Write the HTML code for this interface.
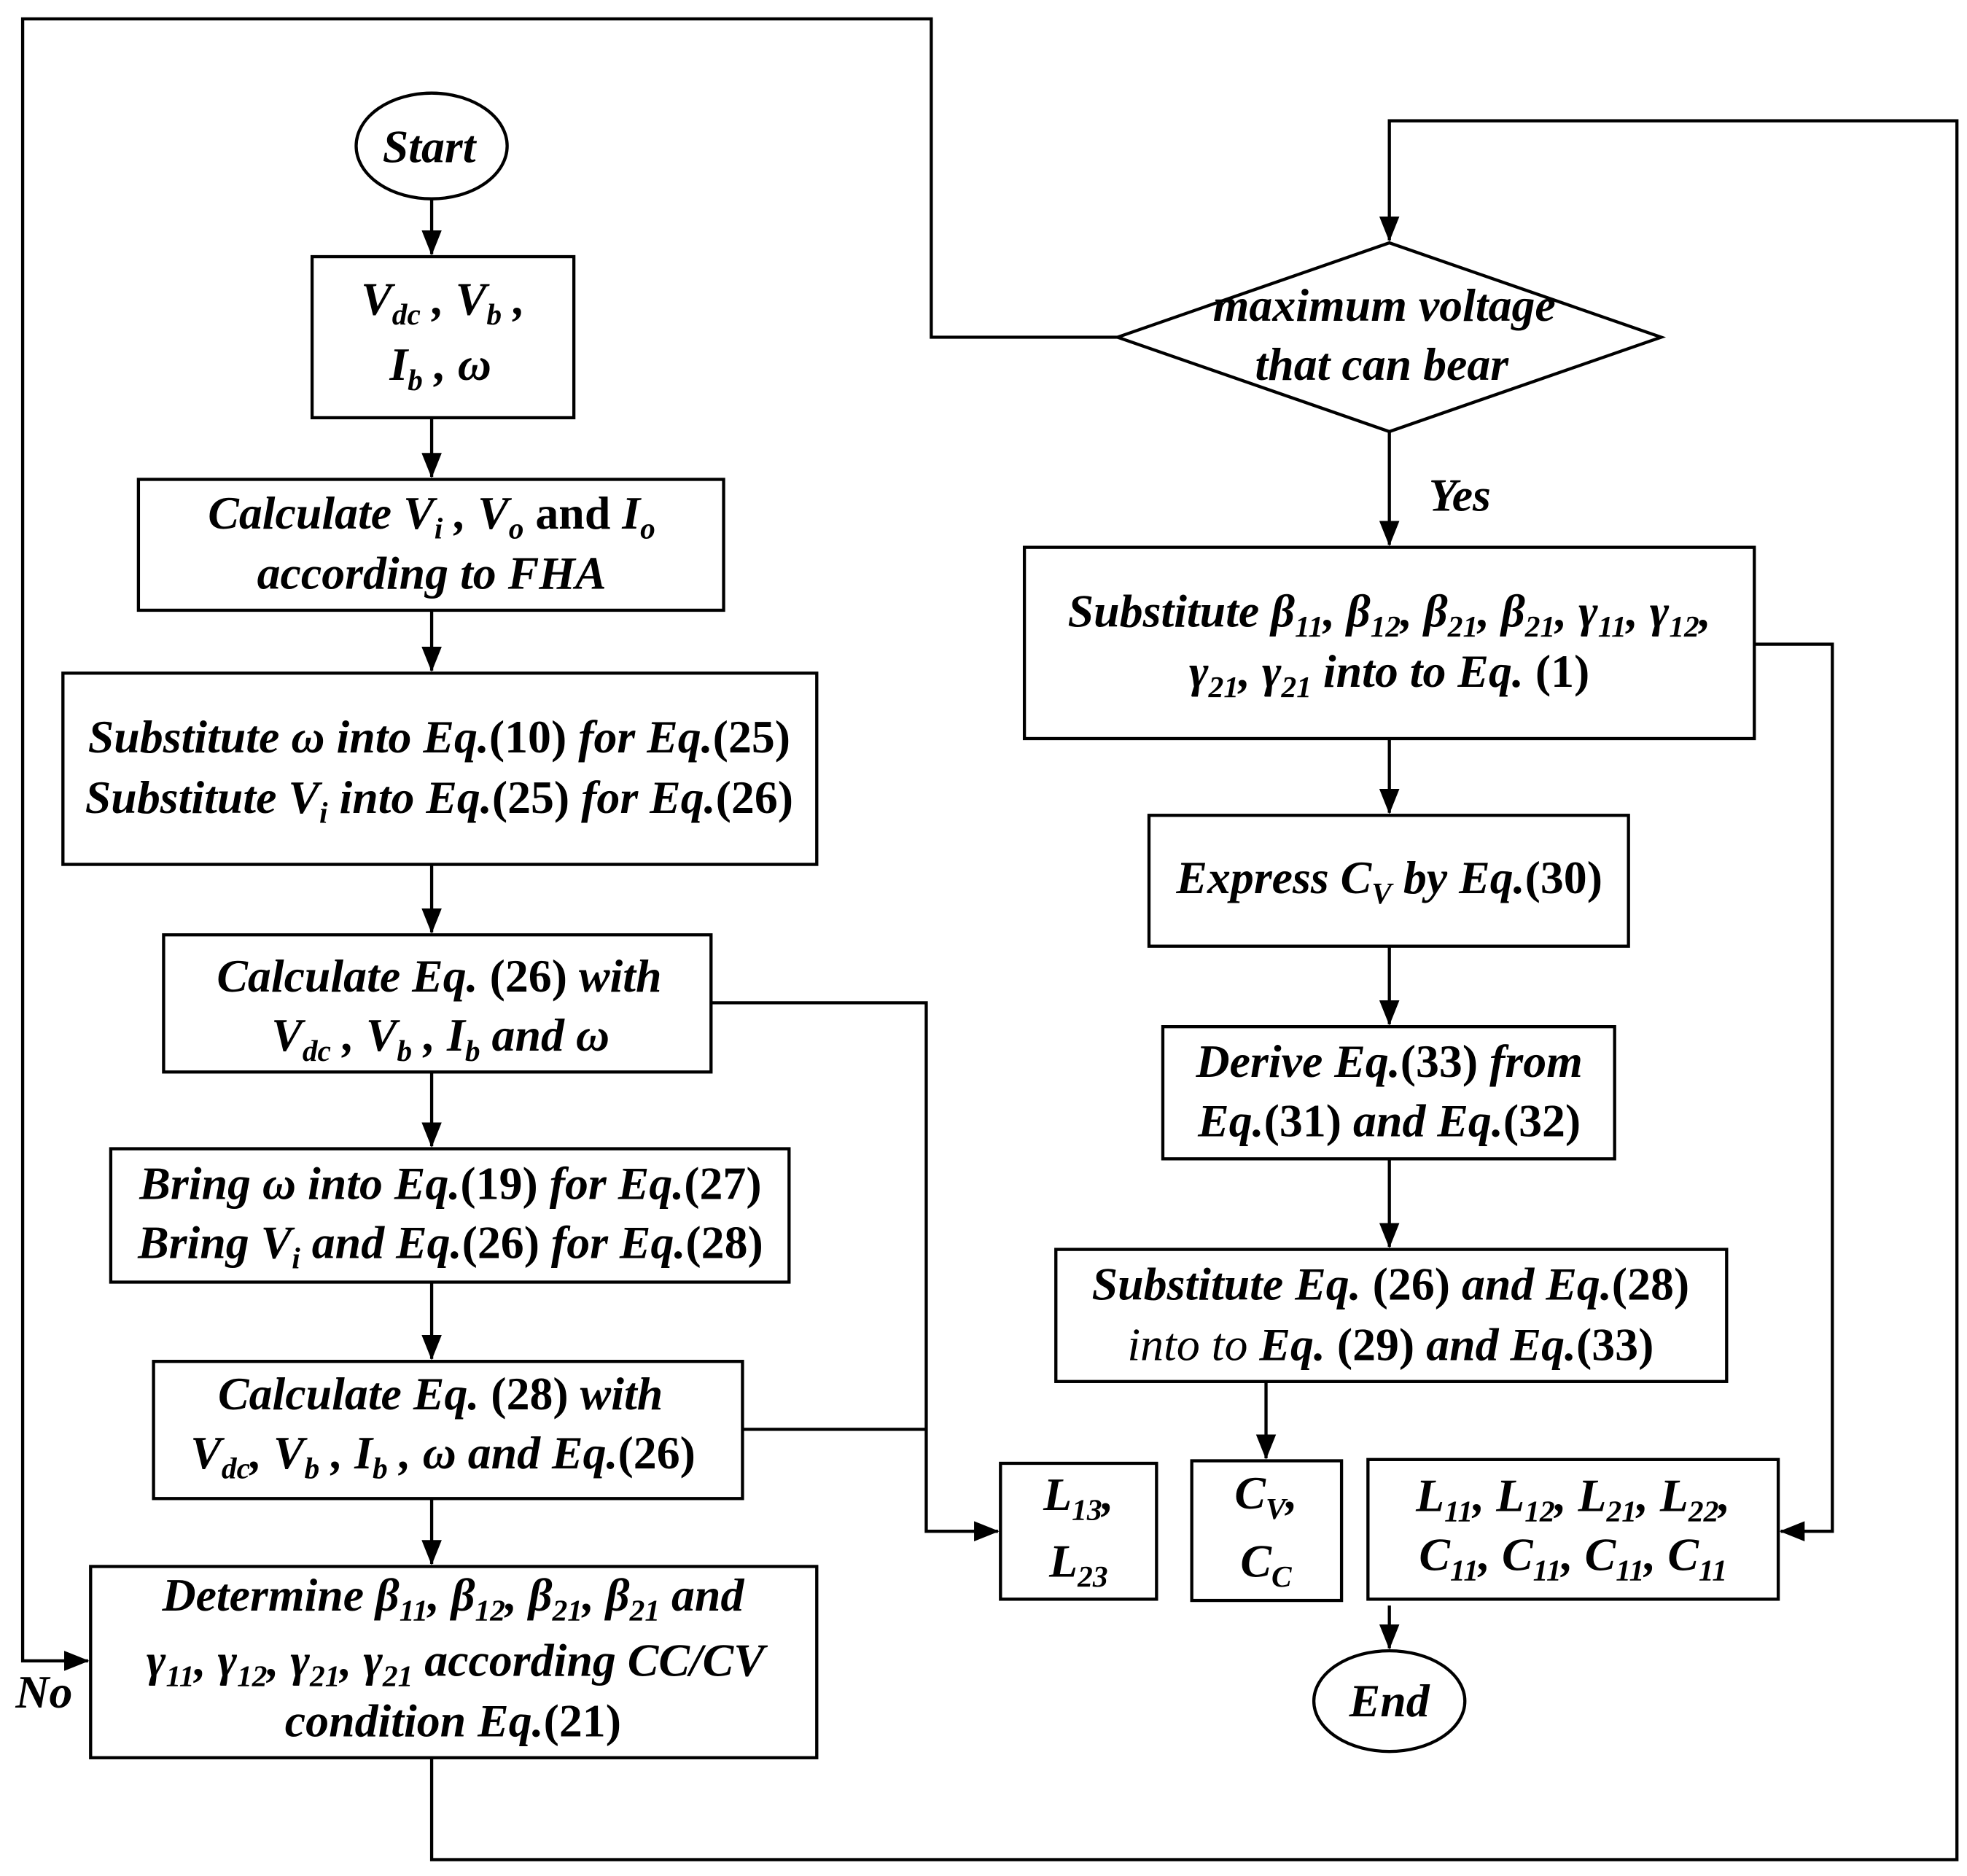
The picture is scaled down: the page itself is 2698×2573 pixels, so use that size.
<!DOCTYPE html>
<html><head><meta charset="utf-8"><style>
html,body{margin:0;padding:0;background:#fff}
svg{display:block}
text{font-family:"Liberation Serif",serif;font-weight:bold;font-style:italic;font-size:37px;fill:#000}
.n{font-style:normal}
</style></head><body>
<svg width="2698" height="2573" viewBox="0 0 1563 1491" preserveAspectRatio="none" xmlns="http://www.w3.org/2000/svg">
<defs>
<marker id="b" markerWidth="20" markerHeight="16" refX="19" refY="8" orient="auto" markerUnits="userSpaceOnUse"><path d="M0,0 L20,8 L0,16 z" fill="#000"/></marker></defs>
<g fill="none" stroke="#000" stroke-width="2.5">
<polyline points="888,268 740,268 740,15 18,15 18,1320 70,1320" marker-end="url(#b)"/>
<ellipse cx="343" cy="116" rx="60" ry="42"/>
<line x1="343" y1="158" x2="343" y2="202" marker-end="url(#b)"/>
<rect x="248" y="204" width="208" height="128"/>
<line x1="343" y1="332" x2="343" y2="379" marker-end="url(#b)"/>
<rect x="110" y="381" width="465" height="104"/>
<line x1="343" y1="485" x2="343" y2="533" marker-end="url(#b)"/>
<rect x="50" y="535" width="599" height="152"/>
<line x1="343" y1="687" x2="343" y2="741" marker-end="url(#b)"/>
<rect x="130" y="743" width="435" height="109"/>
<line x1="343" y1="852" x2="343" y2="911" marker-end="url(#b)"/>
<rect x="88" y="913" width="539" height="106"/>
<line x1="343" y1="1019" x2="343" y2="1080" marker-end="url(#b)"/>
<rect x="122" y="1082" width="468" height="109"/>
<line x1="343" y1="1191" x2="343" y2="1243" marker-end="url(#b)"/>
<rect x="72" y="1245" width="577" height="152"/>
<polyline points="343,1397 343,1478 1555,1478 1555,96 1104,96 1104,191" marker-end="url(#b)"/>
<polygon points="888,268 1104,193 1320,268 1104,343"/>
<line x1="1104" y1="343" x2="1104" y2="433" marker-end="url(#b)"/>
<rect x="814" y="435" width="580" height="152"/>
<polyline points="1394,512 1456,512 1456,1217 1415,1217" marker-end="url(#b)"/>
<line x1="1104" y1="587" x2="1104" y2="646" marker-end="url(#b)"/>
<rect x="913" y="648" width="381" height="104"/>
<line x1="1104" y1="752" x2="1104" y2="814" marker-end="url(#b)"/>
<rect x="924" y="816" width="359" height="105"/>
<line x1="1104" y1="921" x2="1104" y2="991" marker-end="url(#b)"/>
<rect x="839" y="993" width="533" height="105"/>
<line x1="1006" y1="1098" x2="1006" y2="1159" marker-end="url(#b)"/>
<polyline points="565,797 736,797 736,1217 793,1217" marker-end="url(#b)"/>
<line x1="590" y1="1136" x2="736" y2="1136"/>
<rect x="795" y="1163" width="124" height="108"/>
<rect x="947" y="1161" width="119" height="111"/>
<rect x="1087" y="1160" width="326" height="111"/>
<line x1="1104" y1="1276" x2="1104" y2="1310" marker-end="url(#b)"/>
<ellipse cx="1104" cy="1352" rx="60" ry="40"/>
</g>
<g text-anchor="middle">
<text x="341" y="129">Start</text>
<text x="352" y="250">V<tspan font-size="24" dy="8">dc</tspan><tspan dy="-8"> , V</tspan><tspan font-size="24" dy="8">b</tspan><tspan dy="-8"> ,</tspan></text>
<text x="350" y="302">I<tspan font-size="24" dy="8">b</tspan><tspan dy="-8"> ,  ω</tspan></text>
<text x="343" y="420">Calculate V<tspan font-size="24" dy="8">i</tspan><tspan dy="-8"> , V</tspan><tspan font-size="24" dy="8">o</tspan><tspan dy="-8" class="n"> and </tspan><tspan>I</tspan><tspan font-size="24" dy="8">o</tspan></text>
<text x="343" y="468">according to FHA</text>
<text x="349" y="598">Substitute ω into Eq.<tspan class="n">(10)</tspan> for Eq.<tspan class="n">(25)</tspan></text>
<text x="349" y="646">Substitute V<tspan font-size="24" dy="8">i</tspan><tspan dy="-8"> into Eq.</tspan><tspan class="n">(25)</tspan> for Eq.<tspan class="n">(26)</tspan></text>
<text x="349" y="788">Calculate Eq. <tspan class="n">(26)</tspan> with</text>
<text x="350" y="835">V<tspan font-size="24" dy="8">dc</tspan><tspan dy="-8"> , V</tspan><tspan font-size="24" dy="8">b</tspan><tspan dy="-8"> , I</tspan><tspan font-size="24" dy="8">b</tspan><tspan dy="-8"> and ω</tspan></text>
<text x="358" y="953">Bring ω into Eq.<tspan class="n">(19)</tspan> for Eq.<tspan class="n">(27)</tspan></text>
<text x="358" y="1000">Bring  V<tspan font-size="24" dy="8">i</tspan><tspan dy="-8"> and Eq.</tspan><tspan class="n">(26)</tspan> for Eq.<tspan class="n">(28)</tspan></text>
<text x="350" y="1120">Calculate Eq. <tspan class="n">(28)</tspan> with</text>
<text x="352" y="1167">V<tspan font-size="24" dy="8">dc</tspan><tspan dy="-8">, V</tspan><tspan font-size="24" dy="8">b</tspan><tspan dy="-8"> , I</tspan><tspan font-size="24" dy="8">b</tspan><tspan dy="-8"> , ω and Eq.</tspan><tspan class="n">(26)</tspan></text>
<text x="360" y="1280">Determine β<tspan font-size="24" dy="8">11</tspan><tspan dy="-8">, β</tspan><tspan font-size="24" dy="8">12</tspan><tspan dy="-8">,  β</tspan><tspan font-size="24" dy="8">21</tspan><tspan dy="-8">, β</tspan><tspan font-size="24" dy="8">21</tspan><tspan dy="-8"> and</tspan></text>
<text x="362" y="1332">γ<tspan font-size="24" dy="8">11</tspan><tspan dy="-8">, γ</tspan><tspan font-size="24" dy="8">12</tspan><tspan dy="-8">,  γ</tspan><tspan font-size="24" dy="8">21</tspan><tspan dy="-8">, γ</tspan><tspan font-size="24" dy="8">21</tspan><tspan dy="-8"> according CC/CV</tspan></text>
<text x="360" y="1380">condition Eq.<tspan class="n">(21)</tspan></text>
<text x="1100" y="255">maximum voltage</text>
<text x="1098" y="302">that can bear</text>
<text x="1104" y="498">Substitute β<tspan font-size="24" dy="8">11</tspan><tspan dy="-8">, β</tspan><tspan font-size="24" dy="8">12</tspan><tspan dy="-8">,  β</tspan><tspan font-size="24" dy="8">21</tspan><tspan dy="-8">, β</tspan><tspan font-size="24" dy="8">21</tspan><tspan dy="-8">, γ</tspan><tspan font-size="24" dy="8">11</tspan><tspan dy="-8">, γ</tspan><tspan font-size="24" dy="8">12</tspan><tspan dy="-8">,</tspan></text>
<text x="1104" y="546">γ<tspan font-size="24" dy="8">21</tspan><tspan dy="-8">, γ</tspan><tspan font-size="24" dy="8">21</tspan><tspan dy="-8"> into to Eq. </tspan><tspan class="n">(1)</tspan></text>
<text x="1104" y="710">Express C<tspan font-size="24" dy="8">V</tspan><tspan dy="-8"> by Eq.</tspan><tspan class="n">(30)</tspan></text>
<text x="1104" y="856">Derive Eq.<tspan class="n">(33)</tspan> from</text>
<text x="1104" y="903">Eq.<tspan class="n">(31)</tspan> and Eq.<tspan class="n">(32)</tspan></text>
<text x="1105" y="1033">Substitute Eq. <tspan class="n">(26)</tspan> and Eq.<tspan class="n">(28)</tspan></text>
<text x="1105" y="1081"><tspan font-weight="normal">into to </tspan>Eq. <tspan class="n">(29)</tspan> and Eq.<tspan class="n">(33)</tspan></text>
<text x="857" y="1200">L<tspan font-size="24" dy="8">13</tspan><tspan dy="-8">,</tspan></text>
<text x="857" y="1253">L<tspan font-size="24" dy="8">23</tspan></text>
<text x="1006" y="1199">C<tspan font-size="24" dy="8">V</tspan><tspan dy="-8">,</tspan></text>
<text x="1006" y="1253">C<tspan font-size="24" dy="8">C</tspan></text>
<text x="1250" y="1201">L<tspan font-size="24" dy="8">11</tspan><tspan dy="-8">, L</tspan><tspan font-size="24" dy="8">12</tspan><tspan dy="-8">, L</tspan><tspan font-size="24" dy="8">21</tspan><tspan dy="-8">, L</tspan><tspan font-size="24" dy="8">22</tspan><tspan dy="-8">,</tspan></text>
<text x="1250" y="1248">C<tspan font-size="24" dy="8">11</tspan><tspan dy="-8">, C</tspan><tspan font-size="24" dy="8">11</tspan><tspan dy="-8">, C</tspan><tspan font-size="24" dy="8">11</tspan><tspan dy="-8">, C</tspan><tspan font-size="24" dy="8">11</tspan></text>
<text x="1104" y="1364">End</text>
<text x="1160" y="406">Yes</text>
<text x="35" y="1357">No</text>
</g>
</svg>
</body></html>
